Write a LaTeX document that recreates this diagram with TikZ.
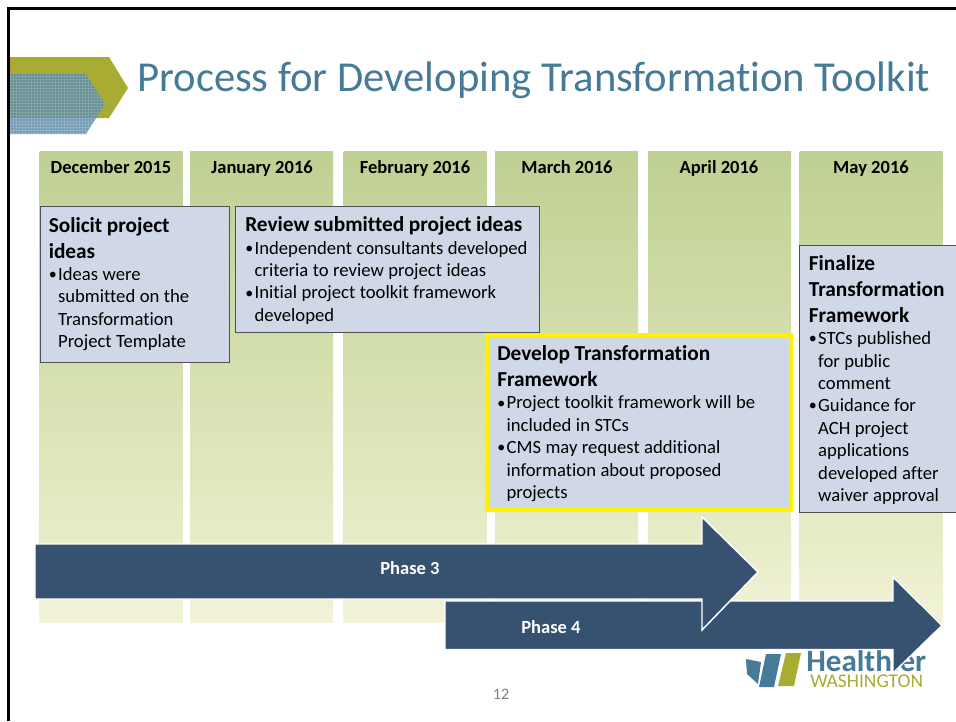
\documentclass[tikz,border=0pt]{standalone}
\usepackage{fontspec}
\setmainfont{Carlito}[Ligatures=NoCommon]
\definecolor{coltop}{HTML}{BFD093}
\definecolor{colmid}{HTML}{E4EAC2}
\definecolor{colbot}{HTML}{F2F3D8}
\definecolor{olive}{HTML}{A9AC32}
\definecolor{teal}{HTML}{457B97}
\definecolor{navy}{HTML}{375270}
\definecolor{boxfill}{HTML}{D0D8E8}
\definecolor{boxline}{HTML}{505050}
\definecolor{chev}{HTML}{5A8BAC}
\pgfdeclareverticalshading{colshade}{100bp}{color(0bp)=(colbot); color(25bp)=(colbot); color(37bp)=(colmid); color(75bp)=(coltop); color(100bp)=(coltop)}
\newlength{\bind}\setlength{\bind}{7pt}
\newcommand{\hl}[1]{{\fontsize{16}{19.5}\selectfont\bfseries #1\par}}
\newcommand{\bl}[1]{{\fontsize{14}{16.8}\selectfont\makebox[\bind][l]{\raisebox{0.7pt}{\fontsize{12}{12}\selectfont •}}#1\par}}
\newcommand{\cl}[1]{{\fontsize{14}{16.8}\selectfont\hspace*{\bind}#1\par}}
\tikzset{
  x=0.75pt,y=-0.75pt,
  month/.style={font=\fontsize{13.9}{15}\selectfont\bfseries,anchor=base,inner sep=0pt},
  column/.style={draw=none,minimum width=107.25pt,minimum height=353.25pt,inner sep=0pt,outer sep=0pt,anchor=north west,shading=colshade},
  infobox/.style={draw=boxline,line width=0.6pt,fill=boxfill,anchor=north west,inner sep=0pt},
  boxtext/.style={anchor=north west,inner sep=0pt,align=left,text width=#1},
  phase/.style={fill=navy,draw=white,line width=1.1pt,line join=miter},
  phasetext/.style={text=white,font=\fontsize{13.9}{15}\selectfont\bfseries,inner sep=0pt}
}
\begin{document}
\begin{tikzpicture}
\useasboundingbox (0,0) rectangle (956,721);
\fill[white] (0,0) rectangle (956,721);
\draw[black,line width=2.1pt] (8.7,721) -- (8.7,8.7) -- (956,8.7);
% chevrons
\fill[olive] (10,57) -- (109,57) -- (128,88) -- (109,118) -- (10,118) -- cycle;
\begin{scope}
\clip (10,74) -- (86,74) -- (105,104) -- (86,134) -- (10,134) -- cycle;
\fill[chev,opacity=.82] (10,70) rectangle (110,140);
\foreach \k in {0,...,36}{\draw[white,opacity=.14,line width=.5pt] (10+3*\k,70) -- (10+3*\k,140);}
\foreach \k in {0,...,24}{\draw[white,opacity=.14,line width=.5pt] (10,70+3*\k) -- (110,70+3*\k);}
\end{scope}
\node[anchor=base west,inner sep=0pt,text=teal,font=\fontsize{32}{38}\selectfont] (title) at (137,91) {Process for Developing Transformation Toolkit};
% columns
\node[column] (c1) at (39.7,151.7) {};
\node[column] (c2) at (190,151.7) {};
\node[column] (c3) at (343.6,151.7) {};
\node[column] (c4) at (495,151.7) {};
\node[column] (c5) at (648,151.7) {};
\node[column] (c6) at (799.5,151.7) {};
\node[month] (m1) at (111,173.5) {December 2015};
\node[month] (m2) at (262,173.5) {January 2016};
\node[month] (m3) at (415,173.5) {February 2016};
\node[month] (m4) at (567,173.5) {March 2016};
\node[month] (m5) at (719,173.5) {April 2016};
\node[month] (m6) at (871,173.5) {May 2016};
% boxes
\node[infobox,minimum width=142pt,minimum height=117pt] (b1) at (39.6,206) {};
\node[boxtext=135pt] (t1) at (48.5,216.8) {\hl{Solicit project}\hl{ideas}\bl{Ideas were}\cl{submitted on the}\cl{Transformation}\cl{Project Template}};
\node[infobox,minimum width=228pt,minimum height=94.5pt] (b2) at (235,206) {};
\node[boxtext=220pt] (t2) at (245,216.5) {\hl{Review submitted project ideas}\bl{Independent consultants developed}\cl{criteria to review project ideas}\bl{Initial project toolkit framework}\cl{developed}};
\node[infobox,draw=yellow,line width=3pt,minimum width=228.2pt,minimum height=130.7pt] (b3) at (485,333.4) {};
\node[boxtext=220pt] (t3) at (497,345.3) {\hl{Develop Transformation}\hl{Framework}\bl{Project toolkit framework will be}\cl{included in STCs}\bl{CMS may request additional}\cl{information about proposed}\cl{projects}};
\node[infobox,minimum width=120pt,minimum height=200pt] (b4) at (799,245) {};
\node[boxtext=110pt] (t4) at (808.6,255) {\hl{Finalize}\hl{Transformation}\hl{Framework}\bl{STCs published}\cl{for public}\cl{comment}\bl{Guidance for}\cl{ACH project}\cl{applications}\cl{developed after}\cl{waiver approval}};
% logo
\fill[teal] (746,659) -- (761,662) -- (758,684) -- (747,674) -- cycle;
\fill[teal] (766,654) -- (781,654) -- (774,687) -- (759,687) -- cycle;
\fill[olive] (786,653) -- (801,653) -- (794,686) -- (778,686) -- cycle;
\node[anchor=base west,inner sep=0pt,text=teal,font=\fontsize{23.3}{24}\selectfont\bfseries] (logoa) at (806,671.5) {Healthier};
\node[anchor=base west,inner sep=0pt,text=olive,font=\fontsize{14.6}{15}\selectfont] (logob) at (810,687) {WASHINGTON};
% arrows
\path[phase] (445,601) -- (893,601) -- (893,577) -- (942,625.5) -- (893,673) -- (893,649.5) -- (445,649.5) -- cycle;
\path[phase] (35,544) -- (702,544) -- (702,517) -- (758,572) -- (702,630) -- (702,599) -- (35,599) -- cycle;
\node[phasetext] (p3) at (410,568) {Phase 3};
\node[phasetext] (p4) at (551,627) {Phase 4};
\node[inner sep=0pt,text=black!50,font=\fontsize{12}{14}\selectfont] (pg) at (501,694) {12};
\end{tikzpicture}
\end{document}
